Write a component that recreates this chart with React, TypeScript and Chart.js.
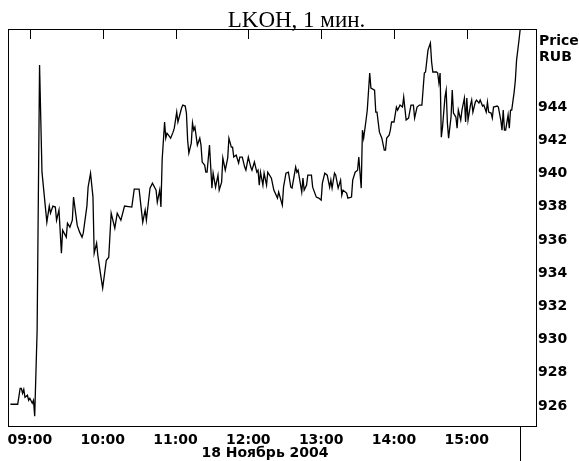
import React, { useEffect, useRef } from "react";
import { Chart, registerables } from "chart.js";

Chart.register(...registerables);

const TITLE = "LKOH, 1 мин.";
const DATE_LABEL = "18 Ноябрь 2004";
const UNIT_LINES = ["Price", "RUB"];

const HOUR_TICKS = [0, 60, 120, 180, 240, 300, 360];
const HOUR_LABELS = ["09:00", "10:00", "11:00", "12:00", "13:00", "14:00", "15:00"];
const PRICE_TICKS = [926, 928, 930, 932, 934, 936, 938, 940, 942, 944];

const X_MIN = -18;
const X_MAX = 417;
const Y_MIN = 924.8;
const Y_MAX = 948.7;

// minutes after 09:00
const MINUTES = [
  -16, -10, -8, -7, -6, -5, -4, -2, -1, 0, 2, 3, 4, 6, 8, 10, 14, 16, 17, 19,
  21, 22, 24, 26, 27, 30, 31, 33, 35, 36, 39, 41, 43, 44, 47, 48, 50, 52, 53, 55,
  56, 58, 60, 63, 65, 67, 70, 72, 75, 78, 84, 86, 90, 93, 95, 96, 99, 101, 104, 105,
  107, 108, 109, 111, 112, 113, 116, 118, 119, 121, 122, 125, 126, 128, 129, 130, 131, 133, 134, 135,
  136, 138, 140, 141, 142, 144, 145, 146, 148, 150, 151, 153, 155, 156, 158, 159, 161, 163, 164, 166,
  167, 168, 170, 172, 173, 175, 177, 178, 180, 182, 183, 185, 187, 188, 189, 190, 192, 193, 195, 196,
  199, 201, 204, 205, 208, 209, 211, 213, 215, 216, 219, 220, 221, 224, 225, 226, 228, 229, 232, 233,
  236, 238, 240, 241, 243, 245, 247, 248, 249, 251, 252, 254, 256, 257, 258, 261, 262, 265, 266, 268,
  270, 271, 273, 274, 275, 277, 278, 280, 281, 284, 285, 286, 288, 290, 292, 293, 294, 296, 297, 298,
  300, 302, 303, 305, 307, 308, 310, 312, 314, 316, 317, 319, 321, 323, 325, 326, 328, 330, 331, 332,
  335, 336, 337, 338, 339, 340, 342, 343, 344, 345, 347, 348, 349, 351, 352, 353, 355, 356, 358, 359,
  360, 361, 363, 364, 365, 367, 368, 370, 371, 373, 374, 376, 377, 378, 380, 381, 382, 385, 386, 388,
  389, 390, 391, 392, 394, 395, 396, 397, 399, 400, 401, 403, 404,
];

const PRICES = [
  926.11, 926.11, 927.07, 927.07, 926.77, 927.0, 926.53, 926.65, 926.35, 926.47, 926.17, 926.35, 925.39, 930.57, 946.53, 940.08, 937.07, 938.04, 937.61, 938.04,
  937.98, 937.19, 937.8, 935.2, 936.59, 936.17, 937.01, 936.77, 937.19, 938.58, 936.89, 936.47, 936.17, 936.41, 938.04, 939.18, 940.02, 938.58, 935.2, 935.81,
  935.08, 934.06, 933.1, 934.78, 934.96, 937.61, 936.71, 937.61, 937.19, 938.04, 937.98, 939.06, 939.06, 937.07, 937.8, 937.19, 939.12, 939.42, 939.0, 938.28,
  939.0, 937.98, 940.81, 943.1, 942.13, 942.43, 942.13, 942.49, 942.73, 943.7, 943.1, 943.94, 944.12, 944.06, 943.64, 942.01, 941.23, 941.83, 943.04, 942.61,
  942.8, 941.71, 942.13, 941.71, 940.69, 940.51, 940.08, 940.08, 941.71, 939.12, 940.02, 939.18, 939.9, 939.0, 939.48, 940.93, 940.2, 940.93, 942.13, 941.59,
  941.59, 940.99, 941.11, 940.63, 940.99, 940.99, 940.39, 940.2, 940.99, 940.39, 940.2, 940.69, 940.08, 940.2, 939.3, 940.08, 939.3, 940.02, 939.3, 940.08,
  939.72, 939.0, 938.52, 938.88, 938.1, 939.18, 940.02, 940.08, 939.18, 939.12, 940.39, 940.08, 940.2, 938.88, 939.72, 939.0, 939.3, 939.9, 939.9, 939.18,
  938.58, 938.52, 938.4, 939.42, 940.02, 939.9, 939.18, 939.6, 939.12, 940.02, 939.9, 939.12, 939.6, 938.7, 939.0, 938.82, 938.52, 938.58, 939.6, 940.08,
  940.2, 940.99, 939.12, 942.61, 942.13, 943.22, 943.82, 946.05, 945.14, 945.02, 943.7, 943.7, 942.49, 942.13, 941.41, 941.41, 942.13, 942.31, 942.61, 943.1,
  943.1, 944.0, 943.82, 944.12, 944.0, 944.6, 943.22, 943.34, 944.12, 944.12, 943.34, 944.0, 944.12, 944.12, 946.05, 946.11, 947.43, 947.86, 946.71, 946.11,
  946.11, 946.05, 945.45, 946.05, 942.19, 942.8, 944.6, 945.02, 943.04, 942.13, 943.4, 945.02, 943.64, 943.4, 942.73, 943.82, 943.22, 943.82, 944.54, 943.1,
  944.54, 943.22, 944.12, 944.42, 943.7, 944.3, 944.42, 944.24, 944.42, 944.06, 944.12, 943.7, 944.3, 943.7, 943.64, 943.34, 944.0, 944.06, 944.0, 943.22,
  942.61, 943.82, 942.61, 942.61, 943.52, 942.73, 943.82, 943.82, 944.9, 945.63, 946.83, 948.04, 948.7,
];

const BOLD_FONT = { family: "'DejaVu Sans', sans-serif", size: 14, weight: "bold" as const };

const framePlugin = {
  id: "frame",
  afterDraw(chart: any) {
    const { ctx, chartArea: a, scales } = chart;
    const xs = scales.x;
    ctx.save();
    ctx.strokeStyle = "#000";
    ctx.lineWidth = 1;
    ctx.strokeRect(a.left + 0.5, a.top + 0.5, a.right - a.left, a.bottom - a.top);
    ctx.beginPath();
    HOUR_TICKS.forEach((v) => {
      const px = Math.round(xs.getPixelForValue(v)) + 0.5;
      ctx.moveTo(px, a.top);
      ctx.lineTo(px, a.top + 10);
    });
    const lastPx = Math.round(xs.getPixelForValue(MINUTES[MINUTES.length - 1])) + 0.5;
    ctx.moveTo(lastPx, a.bottom);
    ctx.lineTo(lastPx, chart.height);
    ctx.stroke();

    ctx.fillStyle = "#000";
    ctx.font = "23px 'Liberation Serif', serif";
    ctx.textAlign = "center";
    ctx.textBaseline = "alphabetic";
    ctx.fillText(TITLE, 296.5, 27);

    ctx.font = "bold 14px 'DejaVu Sans', sans-serif";
    ctx.textAlign = "left";
    ctx.fillText(UNIT_LINES[0], a.right + 3, 45);
    ctx.fillText(UNIT_LINES[1], a.right + 3, 61);

    ctx.textAlign = "center";
    ctx.textBaseline = "middle";
    ctx.fillText(DATE_LABEL, 265, 453);
    ctx.restore();
  },
};

export default function App() {
  const canvasRef = useRef<HTMLCanvasElement | null>(null);

  useEffect(() => {
    const canvas = canvasRef.current;
    if (!canvas) return;
    const chart = new Chart(canvas, {
      type: "line",
      data: {
        datasets: [
          {
            data: MINUTES.map((m, i) => ({ x: m, y: PRICES[i] })),
            borderColor: "#000",
            borderWidth: 1.3,
            pointRadius: 0,
            tension: 0,
            fill: false,
          },
        ],
      },
      options: {
        animation: false,
        responsive: false,
        devicePixelRatio: 1,
        layout: { padding: { top: 29, left: 8, right: 0, bottom: 0 } },
        plugins: { legend: { display: false }, tooltip: { enabled: false }, title: { display: false } },
        scales: {
          x: {
            type: "linear",
            position: "bottom",
            min: X_MIN,
            max: X_MAX,
            afterBuildTicks: (s: any) => {
              s.ticks = HOUR_TICKS.map((v) => ({ value: v }));
            },
            afterFit: (s: any) => {
              s.height = 35;
            },
            grid: { display: false, drawTicks: false },
            border: { display: false },
            ticks: {
              autoSkip: false,
              maxRotation: 0,
              padding: 6,
              color: "#000",
              font: BOLD_FONT,
              callback: (v: any) => {
                const i = HOUR_TICKS.indexOf(Number(v));
                return i >= 0 ? HOUR_LABELS[i] : "";
              },
            },
          },
          y: {
            type: "linear",
            position: "right",
            min: Y_MIN,
            max: Y_MAX,
            afterBuildTicks: (s: any) => {
              s.ticks = PRICE_TICKS.map((v) => ({ value: v }));
            },
            afterFit: (s: any) => {
              s.width = 43;
            },
            grid: { display: false, drawTicks: false },
            border: { display: false },
            ticks: {
              padding: 2,
              color: "#000",
              font: BOLD_FONT,
              callback: (v: any) => String(v),
            },
          },
        },
      },
      plugins: [framePlugin],
    });
    return () => chart.destroy();
  }, []);

  return (
    <div style={{ position: "fixed", left: 0, top: 0, width: 579, height: 461, background: "#fff" }}>
      <canvas ref={canvasRef} width={579} height={461} style={{ width: 579, height: 461, display: "block" }} />
    </div>
  );
}
